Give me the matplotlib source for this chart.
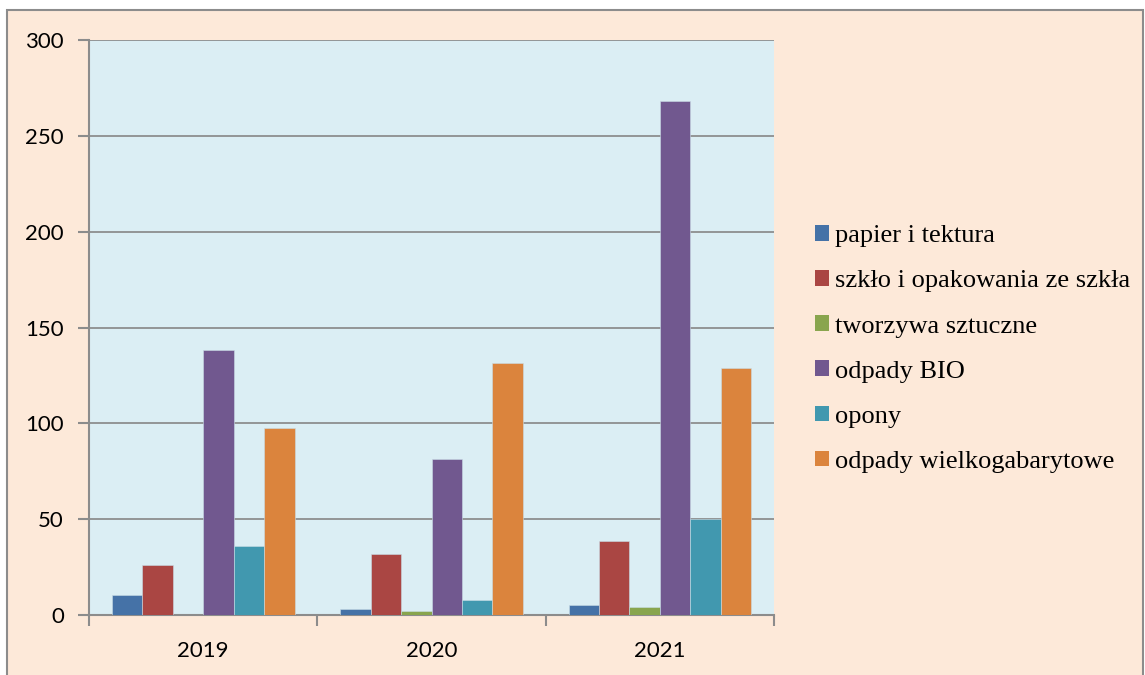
import matplotlib
matplotlib.use("Agg")
import matplotlib.pyplot as plt
from matplotlib.patches import Rectangle, Patch
import numpy as np

years = ["2019", "2020", "2021"]
series = ["papier i tektura", "szkło i opakowania ze szkła", "tworzywa sztuczne",
          "odpady BIO", "opony", "odpady wielkogabarytowe"]
papier = [10.6, 2.9, 5.0]
szklo = [26.3, 31.8, 38.6]
tworzywa = [0.0, 2.2, 4.0]
bio = [138.3, 81.4, 268.2]
opony = [36.0, 8.0, 50.1]
wielko = [97.6, 131.5, 128.9]
values = [papier, szklo, tworzywa, bio, opony, wielko]
colors = ["#4572A7", "#AA4643", "#89A54E", "#71588F", "#4198AF", "#DB843D"]
yticks = [0, 50, 100, 150, 200, 250, 300]

W, H = 1145, 675
fig = plt.figure(figsize=(W / 100, H / 100), dpi=100)
fig.patch.set_facecolor("white")
fig.add_artist(Rectangle((7 / W, -0.05), (W - 9) / W, (H - 10) / H + 0.05, transform=fig.transFigure,
                         facecolor="#FDE9D9", edgecolor="#8C8C8C", linewidth=1.5, zorder=0))

ax = fig.add_axes([89 / W, (H - 615) / H, (774 - 89) / W, (615 - 40) / H])
ax.set_facecolor("#DBEEF4")
bw = 1 / 7.5
x = np.arange(len(years))
for k, (vals, c) in enumerate(zip(values, colors)):
    ax.bar(x + (k - 2.5) * bw, vals, width=bw, color=c, edgecolor="#C9DDE6", linewidth=0.4, zorder=3)

ax.set_xlim(-0.5, 2.5)
ax.set_ylim(0, 300)
ax.set_yticks(yticks)
ax.set_yticklabels([str(t) for t in yticks], fontsize=16, family="Lato")
ax.yaxis.grid(True, color="#868686", linewidth=1.2, zorder=1)
ax.set_xticks([-0.5, 0.5, 1.5, 2.5])
ax.set_xticklabels([])
ax.set_xticks(x, minor=True)
ax.set_xticklabels(years, minor=True, fontsize=16, family="Lato")
ax.tick_params(axis="x", which="minor", length=0, pad=19)
ax.tick_params(axis="x", which="major", length=8, width=1.5, color="#8C8C8C", direction="out")
ax.tick_params(axis="y", length=8, width=1.5, color="#8C8C8C", direction="out", pad=10)
for s in ["top", "right"]:
    ax.spines[s].set_visible(False)
for s in ["left", "bottom"]:
    ax.spines[s].set_color("#8C8C8C")
    ax.spines[s].set_linewidth(1.5)

handles = [Patch(facecolor=c, edgecolor="none") for c in colors]
fig.legend(handles, series, loc="center left", bbox_to_anchor=(791 / W, 1 - 349 / H),
           frameon=False, prop={"family": "Liberation Serif", "size": 19},
           handlelength=0.53, handleheight=0.53, handletextpad=0.25, labelspacing=0.87)

fig.savefig("out.png", dpi=100)
